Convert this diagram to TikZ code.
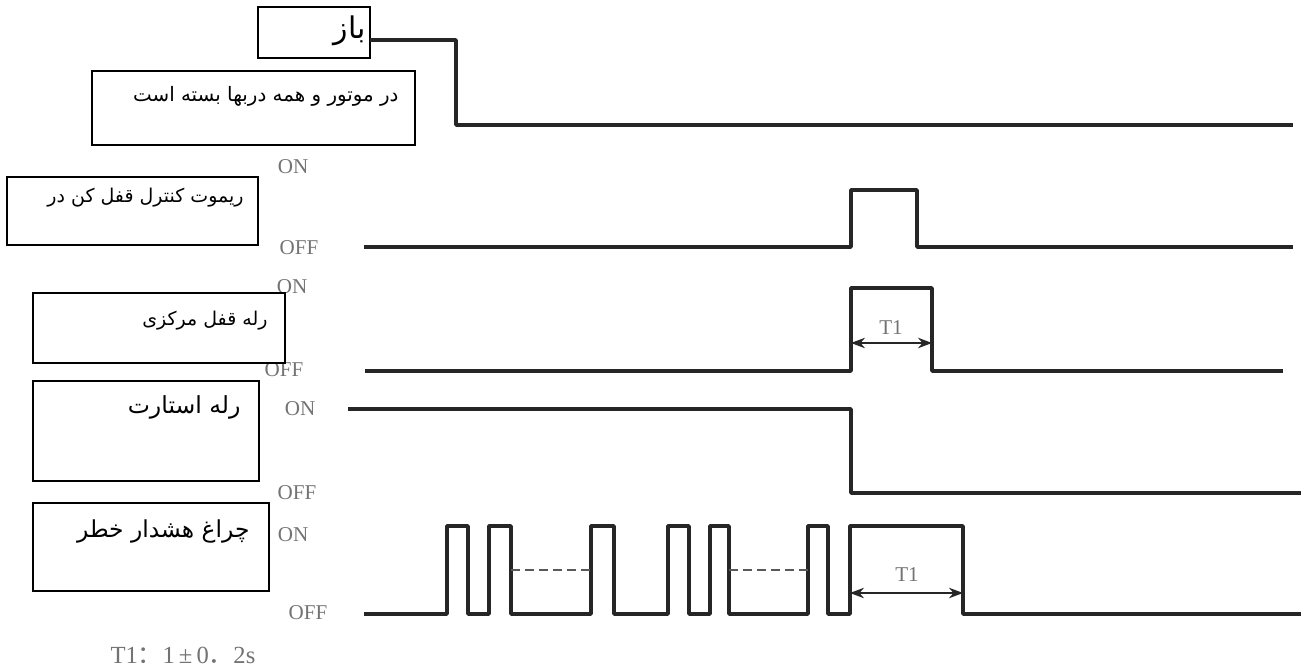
\documentclass[tikz,border=0pt]{standalone}
\usepackage{fontspec}
\setmainfont{Liberation Serif}
\newfontfamily\farsi[Script=Arabic]{DejaVu Sans}
\newfontfamily\cjk{Noto Sans CJK SC}
\TeXXeTstate=1
\usetikzlibrary{arrows.meta, calc}
\newcommand{\px}{0.02cm}
\tikzset{
    signal/.style={line width=2pt, black!85, line join=round},
    labelbox/.style={draw, line width=1pt, fill=white, inner sep=0pt},
    boxtext/.style={anchor=east, inner sep=0pt},
    onoff/.style={text=black!55, font=\fontsize{12}{12}\selectfont, inner sep=0pt},
    t1arrow/.style={{Stealth[length=8pt, width=6pt]}-{Stealth[length=8pt, width=6pt]}, line width=0.8pt, black!85},
    dashline/.style={line width=1pt, black!65, dash pattern=on 5pt off 3pt}
}

\begin{document}
\begin{tikzpicture}[x=\px, y=-\px]
    \useasboundingbox (0,0) rectangle (1301,671);

    % ON / OFF levels
    \node[onoff] (remon)  at (293,167) {ON};
    \node[onoff] (remoff) at (299,248) {OFF};
    \node[onoff] (cenon)  at (292,287) {ON};
    \node[onoff] (cenoff) at (284,370) {OFF};
    \node[onoff] (staon)  at (300,409) {ON};
    \node[onoff] (staoff) at (297,493) {OFF};
    \node[onoff] (hazon)  at (293,535) {ON};
    \node[onoff] (hazoff) at (308,613) {OFF};

    % Boxes
    \node[labelbox, minimum width=112*\px, minimum height=51*\px] (open) at (314,32.5) {};
    \node[labelbox, minimum width=323*\px, minimum height=74*\px] (closed) at (253.5,108) {};
    \node[labelbox, minimum width=251*\px, minimum height=68*\px] (remote) at (132.5,211) {};
    \node[labelbox, minimum width=252*\px, minimum height=70*\px] (central) at (159,328) {};
    \node[labelbox, minimum width=226*\px, minimum height=100*\px] (start) at (146,431) {};
    \node[labelbox, minimum width=236*\px, minimum height=88*\px] (hazard) at (151,547) {};

    % Box texts
    \node[boxtext, font=\farsi\fontsize{17}{17}\selectfont] (opentext) at ($(open.north east)+(-5,25)$) {\beginR باز\endR};
    \node[boxtext, font=\farsi\fontsize{11.3}{11.3}\selectfont] (closedtext) at ($(closed.north east)+(-17,26)$) {\beginR در موتور و همه دربها  بسته است\endR};
    \node[boxtext, font=\farsi\fontsize{10.8}{10.8}\selectfont] (remotetext) at ($(remote.north east)+(-15,21)$) {\beginR ریموت کنترل قفل کن در\endR};
    \node[boxtext, font=\farsi\fontsize{10.8}{10.8}\selectfont] (centraltext) at ($(central.north east)+(-18,28)$) {\beginR رله قفل مرکزی\endR};
    \node[boxtext, font=\farsi\fontsize{13.4}{13.4}\selectfont] (starttext) at ($(start.north east)+(-19,27)$) {\beginR رله استارت\endR};
    \node[boxtext, font=\farsi\fontsize{13.3}{13.3}\selectfont] (hazardtext) at ($(hazard.north east)+(-20,29)$) {\beginR چراغ هشدار خطر\endR};

    % Door and motor state
    \draw[signal] (370,40) -- (456,40) -- (456,125) -- (1293,125);

    % Remote control
    \draw[signal] (364,247) -- (851,247) -- (851,190) -- (917,190) -- (917,247) -- (1293,247);

    % Central lock relay
    \draw[signal] (365,371) -- (851,371) -- (851,288) -- (932,288) -- (932,371) -- (1283,371);
    \coordinate (cenL) at (851,343);
    \coordinate (cenR) at (932,343);
    \draw[t1arrow] (cenL) -- (cenR);
    \node[onoff] (cent1) at (891,328) {T1};

    % Start relay
    \draw[signal] (348,409) -- (851,409) -- (851,493) -- (1301,493);

    % Hazard lamp
    \draw[signal] (364,614)
        foreach \a/\b in {447/468, 489/511, 591/614, 668/689, 710/729, 808/828, 850/963} {
            -- (\a,614) -- (\a,526) -- (\b,526) -- (\b,614)
        } -- (1301,614);
    \draw[dashline] (511,570) -- (591,570);
    \draw[dashline] (729,570) -- (808,570);
    \coordinate (hazL) at (850,593);
    \coordinate (hazR) at (963,593);
    \draw[t1arrow] (hazL) -- (hazR);
    \node[onoff] (hazt1) at (907,575) {T1};

    % Note
    \node[onoff, font=\fontsize{14}{14}\selectfont] (note) at (183,655) {T1{\cjk ：}1\,±\,0{\cjk ．}2s};
\end{tikzpicture}
\end{document}
